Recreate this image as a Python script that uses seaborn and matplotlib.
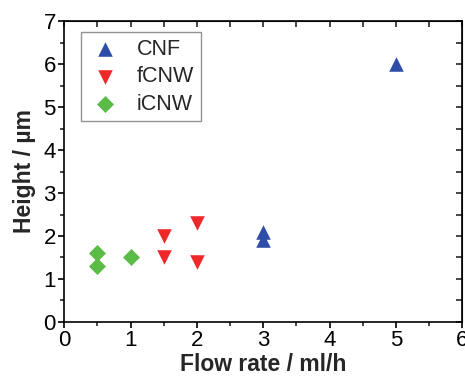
import matplotlib
matplotlib.use("Agg")
import matplotlib.pyplot as plt
import seaborn as sns
import pandas as pd
from matplotlib.ticker import MultipleLocator

cnf_x = [3, 3, 5]
cnf_y = [2.1, 1.9, 6.0]
fcnw_x = [1.5, 1.5, 2, 2]
fcnw_y = [2.0, 1.5, 2.3, 1.4]
icnw_x = [0.5, 0.5, 1]
icnw_y = [1.6, 1.3, 1.5]
series = ["CNF", "fCNW", "iCNW"]

df = pd.concat([
    pd.DataFrame({"x": cnf_x, "y": cnf_y, "s": "CNF"}),
    pd.DataFrame({"x": fcnw_x, "y": fcnw_y, "s": "fCNW"}),
    pd.DataFrame({"x": icnw_x, "y": icnw_y, "s": "iCNW"}),
])

sns.set_style("ticks")
plt.rcParams['font.family'] = ['Liberation Sans', 'DejaVu Sans']

fig = plt.figure(figsize=(4.65, 3.77), dpi=100)
ax = fig.add_axes([0.138, 0.146, 0.856, 0.798])

palette = {"CNF": "#2E4DA7", "fCNW": "#F0282A", "iCNW": "#5BBB46"}
markers = {"CNF": "^", "fCNW": "v", "iCNW": "D"}
sizes = {"CNF": 110, "fCNW": 110, "iCNW": 75}
for name in series:
    sub = df[df.s == name]
    sns.scatterplot(data=sub, x="x", y="y", color=palette[name], marker=markers[name],
                    s=sizes[name], linewidth=0, ax=ax, label=name, zorder=3, clip_on=False)

ax.set_xlim(0, 6)
ax.set_ylim(0, 7)
ax.xaxis.set_major_locator(MultipleLocator(1))
ax.xaxis.set_minor_locator(MultipleLocator(0.5))
ax.yaxis.set_major_locator(MultipleLocator(1))
ax.yaxis.set_minor_locator(MultipleLocator(0.5))
for s in ax.spines.values():
    s.set_linewidth(1.2)
    s.set_color("black")
ax.tick_params(axis="both", which="major", direction="out", length=4, width=1.2,
               labelsize=16, colors="black", pad=2)
ax.tick_params(axis="both", which="minor", direction="out", length=3, width=1.2)
ax.tick_params(top=False, right=False, which="both")

# inward ticks on top and right
ax2 = ax.secondary_xaxis("top")
ax2.xaxis.set_major_locator(MultipleLocator(0.5))
ax2.tick_params(direction="in", length=4, width=1.2, labeltop=False)
ax3 = ax.secondary_yaxis("right")
ax3.yaxis.set_major_locator(MultipleLocator(0.5))
ax3.tick_params(direction="in", length=4, width=1.2, labelright=False)

ax.set_xlabel("Flow rate / ml/h", fontsize=16.5, fontweight="bold", labelpad=1)
ax.set_ylabel("Height / µm", fontsize=16.5, fontweight="bold", labelpad=5)

leg = ax.legend(loc="upper left", bbox_to_anchor=(0.042, 0.963), fontsize=15.5, frameon=True,
                fancybox=False, edgecolor="#777777", handletextpad=0.7, borderpad=0.3,
                labelspacing=0.3, handlelength=1.6, borderaxespad=0)
leg.get_frame().set_linewidth(1.0)

fig.savefig("out.png", dpi=100)
